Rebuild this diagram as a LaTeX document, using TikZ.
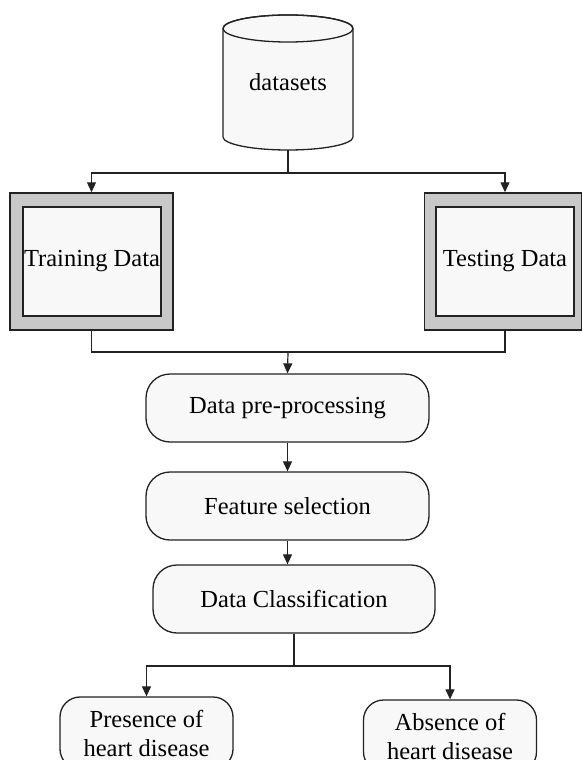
\documentclass[tikz,border=0pt]{standalone}
\usepackage{fontspec}
\setmainfont{Liberation Serif}
\usetikzlibrary{arrows.meta}
\definecolor{boxfill}{HTML}{F8F8F8}
\definecolor{framegray}{HTML}{C8C8C8}
\definecolor{ink}{HTML}{222222}
\tikzset{
  txt/.style={font=\fontsize{24.5}{29}\selectfont, text=black},
  roundbox/.style={txt, draw=ink, line width=1.3pt, fill=boxfill, rounded corners=24pt, minimum width=283pt, minimum height=68pt, inner sep=0pt},
  leafbox/.style={txt, draw=ink, line width=1.3pt, fill=boxfill, rounded corners=20pt, minimum width=173pt, minimum height=72pt, inner sep=0pt, align=center},
  outerframe/.style={draw=ink, line width=1.5pt, fill=framegray, inner sep=0pt},
  innerframe/.style={txt, draw=ink, line width=1.3pt, fill=boxfill, inner sep=0pt, minimum width=138pt, minimum height=109pt},
  conn/.style={draw=ink, line width=1.2pt},
  arr/.style={conn, -{Triangle[length=10pt,width=9pt]}}
}
\begin{document}
\begin{tikzpicture}[x=1pt,y=1pt]
\useasboundingbox (0,0) rectangle (582,-760);
\clip (0,0) rectangle (582,-760);
\fill[white] (0,0) rectangle (582,-760);
% cylinder
\filldraw[draw=ink, line width=1.3pt, fill=boxfill] (223,-28.5) -- (223,-137)
  arc[start angle=180,end angle=360,x radius=65,y radius=13] -- (353,-28.5)
  arc[start angle=0,end angle=180,x radius=65,y radius=13.5] -- cycle;
\draw[draw=ink, line width=1.3pt] (288,-28.5) ellipse [x radius=65, y radius=13.5];
\node[txt, minimum width=130pt, minimum height=136pt, inner sep=0pt] (ds) at (288,-82) {datasets};
% training / testing
\node[outerframe, minimum width=163pt, minimum height=137pt] (trainO) at (91.5,-261.5) {};
\node[innerframe] (train) at (92,-261.5) {Training Data};
\node[outerframe, minimum width=157pt, minimum height=137pt] (testO) at (503,-261.5) {};
\node[innerframe] (test) at (505,-261.5) {Testing Data};
% pipeline
\node[roundbox] (pre) at (287.5,-408) {Data pre-processing};
\node[roundbox] (feat) at (287.5,-506) {Feature selection};
\node[roundbox, minimum width=282pt] (cls) at (294,-599) {Data Classification};
\node[leafbox] (pres) at (146.5,-733) {Presence of\\heart disease};
\node[leafbox] (abs) at (450,-736) {Absence of\\heart disease};
% connectors
\coordinate (split1) at (288,-173);
\coordinate (merge) at (288,-352);
\coordinate (split2) at (294,-666);
\draw[conn] (ds.south) -- (split1);
\draw[arr] (split1) -| (trainO.north);
\draw[arr] (split1) -| (test.north |- testO.north);
\draw[conn] (trainO.south) |- (merge);
\draw[conn] (test.south |- testO.south) |- (merge);
\draw[arr] (merge) -- (pre.north);
\draw[arr] (pre.south) -- (feat.north);
\draw[arr] (feat.south) -- (feat.south |- cls.north);
\draw[conn] (cls.south) -- (split2);
\draw[arr] (split2) -| (pres.north);
\draw[arr] (split2) -| (abs.north);
\end{tikzpicture}
\end{document}
